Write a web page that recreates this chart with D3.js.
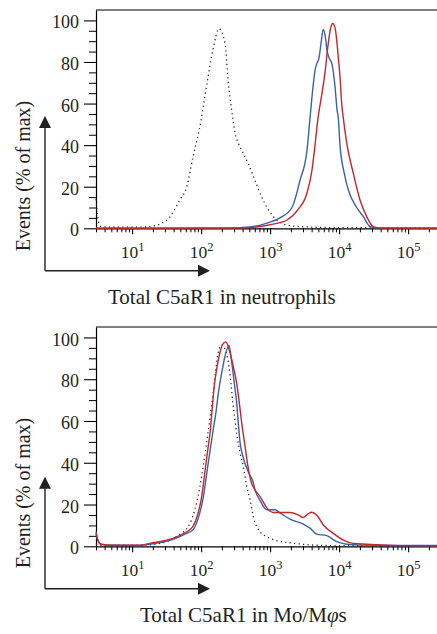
<!DOCTYPE html>
<html lang="en">
<head>
<meta charset="UTF-8">
<title>Total C5aR1 histograms</title>
<script src="https://d3js.org/d3.v7.min.js"></script>
<style>
  body { margin: 0; background: #fff; }
  svg { display: block; font-family: "Liberation Serif", "Times New Roman", serif; }
</style>
</head>
<body>
<svg width="437" height="634"></svg>
<script>
// [intensity, events % of max]
const neutroIsotype = [[3,14],[3.2,5],[3.5,1],[4.8,0.5],[13,0.5],[18,0.8],[32,4],[49,13.5],[62,20],[76,34],[96,49],[122,70],[149,86],[182,96],[222,89],[248,70],[277,57],[310,46],[346,41],[409,36],[483,31],[604,23],[755,15],[943,9],[1247,4],[1742,1.6],[2716,0.8],[10300,0.3],[262144,0.2]];
const neutroBlue = [[3,0],[262,0.2],[462,0.5],[902,2.5],[1390,5],[2075,10],[2710,23],[3425,37.5],[3785,53],[4185,68],[4475,76],[4735,79],[5115,82],[5470,89],[5905,95.7],[6250,93],[6680,85.6],[7140,82],[7890,79],[8730,68],[9330,57],[9740,53],[10300,40],[11780,27],[13600,18.4],[17980,10],[22440,5.6],[28050,0.8],[34280,0.2],[262144,0]];
const neutroRed = [[3,0],[366,0.1],[512,0.3],[1100,2],[1757,4],[2535,9],[3425,17],[4045,28],[4475,40],[4945,53],[5650,65],[6250,75],[6905,88],[7505,96],[8070,98.5],[8720,96.5],[9230,90.5],[9740,82],[10300,73],[10900,60],[11510,53],[12890,41],[16070,26.4],[20100,13.6],[25100,5.6],[31300,0.8],[39200,0.1],[262144,0]];

const monoIsotype = [[3,1],[3.5,0.5],[13,0.5],[25,1.4],[44,4.6],[69,11],[96,28.5],[120,49.5],[150,73.5],[177,92.8],[201,96.5],[230,93],[254,86],[271,78],[290,68],[310,60],[331,53],[366,45],[409,38],[458,28.7],[512,22.3],[571,14.2],[714,7],[893,4.6],[1247,2.7],[1941,1.7],[2712,1.1],[4230,0.6],[10300,0.3],[262144,0.2]];
const monoBlue = [[3,7],[3.2,3],[3.5,1.2],[4.8,0.5],[13,0.4],[18,1],[30,2.3],[39,3.3],[58,5.8],[76,7.8],[90,13],[108,23.8],[122,36],[138,48],[150,56],[164,64],[178,73.5],[199,83],[222,91],[254,96.3],[278,88],[303,78],[328,68.7],[346,59],[366,50],[404,43],[463,37],[512,34],[565,31],[604,27],[714,22],[893,17.5],[1178,17.5],[1391,16],[1941,13],[3029,10.6],[3785,8.7],[4730,5.8],[6605,5.1],[9230,2.2],[12890,1],[20100,0.6],[76200,0.4],[262144,0.4]];
const monoRed = [[3,6],[3.2,2.5],[3.5,1],[4.8,0.5],[13,0.5],[18,1.4],[30,2.8],[39,3.8],[58,6.5],[76,9.4],[87,14],[102,23.8],[114,36],[127,48],[134.5,54],[145,66],[155,76.7],[168,84.8],[188,92.8],[204,96.5],[227,97.9],[262,92.8],[293,86],[328,78],[358,68.7],[388,59],[433,48],[479,38],[529,31],[604,27],[714,23.8],[943,17.5],[1112,16.2],[1941,16.2],[2563,15],[3029,13.8],[3540,15.5],[4008,16.3],[4730,15],[5905,10.2],[8240,6.2],[11510,3],[16070,1.4],[25100,1],[39200,0.6],[76200,0.3],[262144,0.2]];

const decades = [1e1, 1e2, 1e3, 1e4, 1e5];
const yTicks = [0, 20, 40, 60, 80, 100];
const yLabel = "Events (% of max)";

const red = "#c1272d", blue = "#3a62a8";

const panels = [
  { top: 10, zero: 228.3, arrowTop: 116, title: ["Total C5aR1 in neutrophils"], titleX: 108,
    series: [neutroIsotype, neutroBlue, neutroRed] },
  { top: 327, zero: 546.3, arrowTop: 476.7, title: ["Total C5aR1 in Mo/M", "φ", "s"], titleX: 140,
    series: [monoIsotype, monoBlue, monoRed] }
];

const svg = d3.select("svg");
const left = 96, right = 437;

const x = d3.scaleLog().domain([3, 262144]).range([left, right]);

// minor log ticks 2..9 in every decade, inside the domain
const xMinor = [];
[1, 10, 100, 1000, 10000, 100000].forEach(b => {
  for (let k = 2; k <= 9; k++) {
    const v = b * k;
    if (v >= 3 && v <= 262144) xMinor.push(v);
  }
});
const yMinor = d3.range(0, 101, 5).filter(v => v % 20 !== 0);

panels.forEach(p => {
  const y = d3.scaleLinear().domain([0, 105]).range([p.zero, p.top]);
  const g = svg.append("g");

  // top frame
  g.append("line")
    .attr("x1", left).attr("x2", right)
    .attr("y1", p.top).attr("y2", p.top)
    .attr("stroke", "#000").attr("stroke-width", 1.2);

  // y axis
  const ya = g.append("g")
    .attr("transform", `translate(${left},0)`)
    .call(d3.axisLeft(y).tickValues(yTicks).tickSize(12).tickPadding(5).tickSizeOuter(0))
    .attr("font-family", null).attr("font-size", 18);
  ya.select(".domain").attr("stroke-width", 1.2);
  ya.selectAll(".tick line").attr("stroke-width", 1.1);
  ya.selectAll(".tick text").attr("fill", "#231f20").attr("dy", "0.42em");

  g.append("g")
    .attr("transform", `translate(${left},0)`)
    .call(d3.axisLeft(y).tickValues(yMinor).tickSize(7).tickFormat(""))
    .call(s => s.select(".domain").remove())
    .selectAll(".tick line").attr("stroke-width", 1);

  // x axis
  const xa = g.append("g")
    .attr("transform", `translate(0,${p.zero})`)
    .call(d3.axisBottom(x).tickValues(decades).tickSize(6).tickSizeOuter(0).tickFormat(() => ""))
    .attr("font-family", null).attr("font-size", 17.5);
  xa.select(".domain").attr("stroke-width", 1.2);
  xa.selectAll(".tick line").attr("stroke-width", 1.1);
  xa.selectAll(".tick text").each(function(d) {
    const t = d3.select(this).attr("y", 30).attr("dy", null).attr("fill", "#231f20");
    t.append("tspan").text("10");
    t.append("tspan").attr("dy", -7).attr("font-size", 12.5).text(Math.round(Math.log10(d)));
  });

  g.append("g")
    .attr("transform", `translate(0,${p.zero})`)
    .call(d3.axisBottom(x).tickValues(xMinor).tickSize(4).tickFormat(""))
    .call(s => s.select(".domain").remove())
    .selectAll(".tick line").attr("stroke-width", 1);

  // curves
  const line = d3.line()
    .x(d => x(d[0]))
    .y(d => y(d[1]))
    .curve(d3.curveMonotoneX);

  const [iso, b, r] = p.series;
  g.append("path").datum(iso)
    .attr("d", line).attr("fill", "none")
    .attr("stroke", "#222").attr("stroke-width", 1.3)
    .attr("stroke-dasharray", "1.2,3.3");
  g.append("path").datum(b)
    .attr("d", line).attr("fill", "none")
    .attr("stroke", blue).attr("stroke-width", 1.4);
  g.append("path").datum(r)
    .attr("d", line).attr("fill", "none")
    .attr("stroke", red).attr("stroke-width", 1.4);

  // y label
  g.append("text")
    .attr("transform", `translate(30,${p.top + 166}) rotate(-90)`)
    .attr("text-anchor", "middle")
    .attr("font-size", 20)
    .attr("fill", "#231f20")
    .text(yLabel);

  // corner arrows
  const ay = p.zero + 42.4;
  g.append("line").attr("x1", 45).attr("x2", 45).attr("y1", ay).attr("y2", p.arrowTop + 8)
    .attr("stroke", "#231f20").attr("stroke-width", 1.4);
  g.append("line").attr("x1", 45).attr("x2", 202).attr("y1", ay).attr("y2", ay)
    .attr("stroke", "#231f20").attr("stroke-width", 1.4);
  g.append("path")
    .attr("d", `M45,${p.arrowTop}L51,${p.arrowTop + 12}L39,${p.arrowTop + 12}Z`)
    .attr("fill", "#231f20");
  g.append("path")
    .attr("d", `M210,${ay}L198,${ay - 6}L198,${ay + 6}Z`)
    .attr("fill", "#231f20");

  // title
  const tt = g.append("text")
    .attr("x", p.titleX).attr("y", p.zero + 75.5)
    .attr("font-size", 21)
    .attr("fill", "#231f20");
  p.title.forEach((s, i) => {
    tt.append("tspan").attr("font-style", i === 1 ? "italic" : null).text(s);
  });
});
</script>
</body>
</html>
